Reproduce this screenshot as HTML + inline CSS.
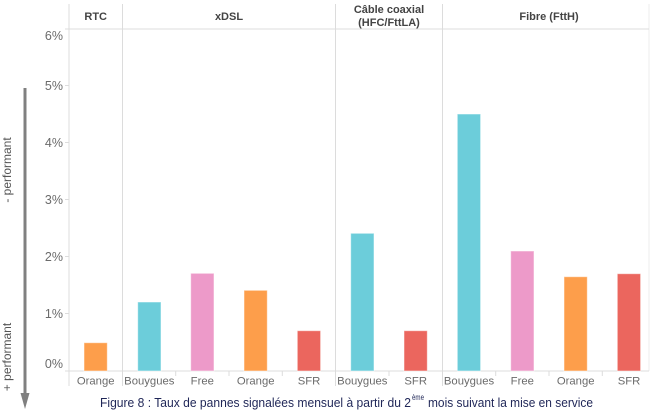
<!DOCTYPE html>
<html><head><meta charset="utf-8"><style>
html,body{margin:0;padding:0;background:#fff;}
svg{display:block;}
</style></head><body>
<svg width="657" height="415" viewBox="0 0 657 415" xmlns="http://www.w3.org/2000/svg" font-family="Liberation Sans, Arial, sans-serif">
<g stroke="#dcdcdc" stroke-width="1">
<line x1="69" y1="4" x2="69" y2="386"/>
<line x1="122.5" y1="4" x2="122.5" y2="386"/>
<line x1="335.5" y1="4" x2="335.5" y2="386"/>
<line x1="442.5" y1="4" x2="442.5" y2="386"/>
<line x1="649" y1="4" x2="649" y2="371" stroke="#eeeeee"/>
<line x1="65" y1="29" x2="649" y2="29"/>
<line x1="65" y1="371" x2="649" y2="371"/>
<line x1="65" y1="85.5" x2="69" y2="85.5"/>
<line x1="65" y1="142.5" x2="69" y2="142.5"/>
<line x1="65" y1="199.5" x2="69" y2="199.5"/>
<line x1="65" y1="256.5" x2="69" y2="256.5"/>
<line x1="65" y1="313.5" x2="69" y2="313.5"/>
<line x1="175.7" y1="371" x2="175.7" y2="376"/>
<line x1="229" y1="371" x2="229" y2="376"/>
<line x1="282.3" y1="371" x2="282.3" y2="376"/>
<line x1="389" y1="371" x2="389" y2="376"/>
<line x1="495.7" y1="371" x2="495.7" y2="376"/>
<line x1="549" y1="371" x2="549" y2="376"/>
<line x1="602.3" y1="371" x2="602.3" y2="376"/>
</g>
<g font-size="12.5" fill="#6b6b6b" text-anchor="end">
<text x="63" y="40">6%</text>
<text x="63" y="90">5%</text>
<text x="63" y="147">4%</text>
<text x="63" y="204">3%</text>
<text x="63" y="261">2%</text>
<text x="63" y="318">1%</text>
<text x="63" y="368">0%</text>
</g>
<g font-size="11" font-weight="bold" fill="#444" text-anchor="middle">
<text x="95.7" y="20">RTC</text>
<text x="229" y="20">xDSL</text>
<text x="389" y="13">Câble coaxial</text>
<text x="389" y="26">(HFC/FttLA)</text>
<text x="549" y="20">Fibre (FttH)</text>
</g>
<g stroke="#ffffff" stroke-opacity="0.5" stroke-width="1">
<rect x="84" y="342.7" width="23.3" height="28.3" fill="#fd9e4b"/>
<rect x="137.7" y="302" width="23.3" height="69" fill="#6ccdda"/>
<rect x="190.7" y="273.3" width="23.3" height="97.7" fill="#ed9ac9"/>
<rect x="244" y="290.3" width="23.3" height="80.7" fill="#fd9e4b"/>
<rect x="297.3" y="330.7" width="23.3" height="40.3" fill="#eb665e"/>
<rect x="350.7" y="233.3" width="23.3" height="137.7" fill="#6ccdda"/>
<rect x="404" y="330.7" width="23.3" height="40.3" fill="#eb665e"/>
<rect x="457.3" y="114" width="23.3" height="257" fill="#6ccdda"/>
<rect x="510.7" y="251" width="23.3" height="120" fill="#ed9ac9"/>
<rect x="564" y="276.7" width="23.3" height="94.3" fill="#fd9e4b"/>
<rect x="617.3" y="273.7" width="23.3" height="97.3" fill="#eb665e"/>
</g>
<g font-size="11.3" fill="#6b6b6b" text-anchor="middle">
<text x="95.7" y="384.5">Orange</text>
<text x="149.3" y="384.5">Bouygues</text>
<text x="202.3" y="384.5">Free</text>
<text x="255.7" y="384.5">Orange</text>
<text x="309" y="384.5">SFR</text>
<text x="362.3" y="384.5">Bouygues</text>
<text x="415.7" y="384.5">SFR</text>
<text x="469" y="384.5">Bouygues</text>
<text x="522.3" y="384.5">Free</text>
<text x="575.7" y="384.5">Orange</text>
<text x="629" y="384.5">SFR</text>
</g>
<line x1="25" y1="88" x2="25" y2="396" stroke="#808080" stroke-width="3"/>
<polygon points="20.5,393 29.5,393 25,409" fill="#808080"/>
<g font-size="12" fill="#555" text-anchor="middle">
<text transform="translate(11,170) rotate(-90)">- performant</text>
<text transform="translate(11,357) rotate(-90)">+ performant</text>
</g>
<text x="100" y="407" font-size="12.5" fill="#1f2657" textLength="311" lengthAdjust="spacingAndGlyphs">Figure 8 : Taux de pannes signalées mensuel à partir du 2</text>
<text x="412" y="400" font-size="8" fill="#1f2657" textLength="12" lengthAdjust="spacingAndGlyphs">ème</text>
<text x="428" y="407" font-size="12.5" fill="#1f2657" textLength="165" lengthAdjust="spacingAndGlyphs">mois suivant la mise en service</text>
</svg>
</body></html>
